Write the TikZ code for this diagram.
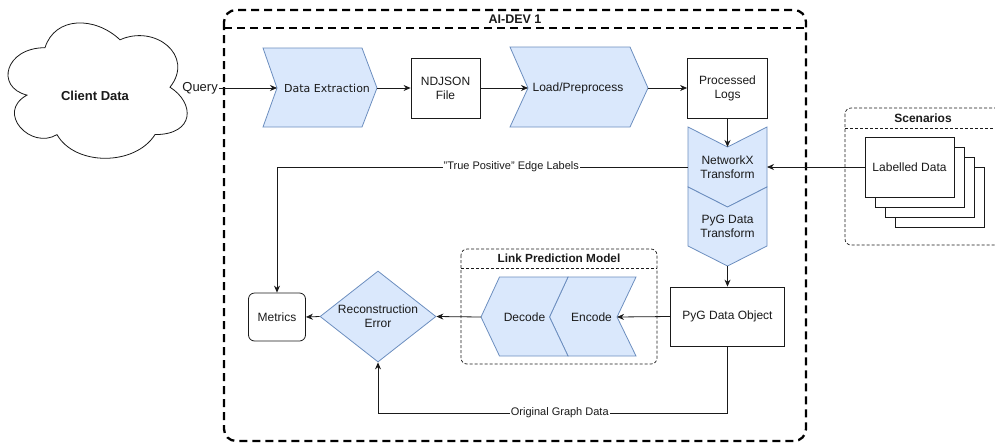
\documentclass[tikz,border=0pt]{standalone}
\usepackage{fontspec}
\setmainfont{Liberation Sans}
\newfontfamily\dejavu{DejaVu Sans}
\usetikzlibrary{arrows.meta,shapes.geometric}
\definecolor{chevfill}{HTML}{DAE8FC}
\definecolor{chevline}{HTML}{6C8EBF}
\definecolor{ink}{HTML}{1A1A1A}
\tikzset{
  txt/.style={font=\fontsize{12}{14}\selectfont, text=ink, align=center},
  box/.style={txt, draw=ink, fill=white, line width=0.8pt, inner sep=2pt},
  chev/.style={draw=chevline, fill=chevfill, line width=0.8pt, line join=miter},
  arr/.style={-{Stealth[length=7pt,width=6pt]}, line width=0.8pt, draw=ink},
  elabel/.style={fill=white, text=ink, font=\fontsize{11}{13}\selectfont, inner sep=1pt},
  cont/.style={draw=ink, dash pattern=on 3pt off 2pt, line width=0.7pt},
  outerbox/.style={draw=black, dash pattern=on 8pt off 5pt, line width=2.3pt},
  heading/.style={font=\fontsize{12}{14}\selectfont\bfseries, text=ink},
}
\begin{document}
\begin{tikzpicture}[x=1pt,y=-1pt]
\useasboundingbox (0,0) rectangle (995,445);
\clip (0,0) rectangle (995,445);

% ---------- AI-DEV 1 frame ----------
\draw[outerbox, rounded corners=12pt] (224,10) rectangle (806,441);
\draw[outerbox] (224,28) -- (806,28);
\node[heading, font=\fontsize{12.5}{14}\selectfont\bfseries] (aidev) at (515,19) {AI-DEV 1};

% ---------- client side ----------
\draw[draw=ink, fill=white, line width=0.8pt]
  (45,47.7) .. controls (5,47.7) and (-5,87.2) .. (27,95.1)
  .. controls (-5,112.5) and (31,150.4) .. (57,134.6)
  .. controls (75,166.2) and (135,166.2) .. (155,134.6)
  .. controls (195,134.6) and (195,103) .. (170,87.2)
  .. controls (195,55.6) and (155,24) .. (120,39.8)
  .. controls (95,16.1) and (55,16.1) .. (45,47.7) -- cycle;
\node[heading, font=\fontsize{13}{15}\selectfont\bfseries] (cloud) at (95,96) {Client Data};
\coordinate (cloud-e) at (186,88);

% ---------- extraction pipeline ----------
\draw[chev] (263,48) -- (362,48) -- (377,88) -- (362,127) -- (263,127) -- (277,88) -- cycle;
\coordinate (de-in) at (277,88);
\coordinate (de-out) at (377,88);
\node[txt, font=\dejavu\fontsize{11}{13}\selectfont] (de) at (327,88) {Data Extraction};

\node[box, minimum width=69pt, minimum height=60pt] (nd) at (445.5,88) {NDJSON\\File};

\draw[chev] (510,47) -- (630,47) -- (648,88) -- (630,127) -- (510,127) -- (528,88) -- cycle;
\coordinate (lp-in) at (528,88);
\coordinate (lp-out) at (648,88);
\node[txt] (lp) at (578,88) {Load/Preprocess};

\node[box, minimum width=80pt, minimum height=60pt] (pl) at (727.5,88) {Processed\\Logs};

% ---------- graph transforms ----------
\draw[chev] (688,127) -- (727.5,147) -- (767,127) -- (767,187) -- (727.5,207) -- (688,187) -- cycle;
\draw[chev] (688,187) -- (727.5,207) -- (767,187) -- (767,246) -- (727.5,266) -- (688,246) -- cycle;
\coordinate (nx-in) at (727.5,147);
\coordinate (nx-l) at (688,167);
\coordinate (nx-r) at (767,167);
\coordinate (pt-out) at (727.5,266);
\node[txt] (nx) at (727.5,167) {NetworkX\\Transform};
\node[txt] (pt) at (727.5,226) {PyG Data\\Transform};

\node[box, minimum width=114pt, minimum height=59pt] (pyg) at (727.5,316.5) {PyG Data Object};

% ---------- scenarios ----------
\draw[cont, rounded corners=6pt] (845,108) rectangle (1001,245);
\draw[cont] (845,128) -- (1001,128);
\node[heading] (scen) at (923,118) {Scenarios};
\foreach \d in {30,20,10}
  \draw[box] (865+\d,137+\d) rectangle (954+\d,197+\d);
\node[box, minimum width=89pt, minimum height=60pt] (ld) at (909.5,167) {Labelled Data};

% ---------- link prediction model ----------
\draw[cont, rounded corners=6pt] (461,249) rectangle (657,364);
\draw[cont] (461,268) -- (657,268);
\node[heading, font=\fontsize{11.8}{13}\selectfont\bfseries] (lpm) at (559,258.5) {Link Prediction Model};
\draw[chev] (549.5,317) -- (568,277) -- (636,277) -- (617,317) -- (636,356) -- (568,356) -- cycle;
\draw[chev] (481,317) -- (499.5,277) -- (568,277) -- (549.5,317) -- (568,356) -- (499.5,356) -- cycle;
\coordinate (enc-in) at (617,317);
\coordinate (dec-out) at (481,317);
\node[txt] (enc) at (591.5,317) {Encode};
\node[txt] (dec) at (524.5,317) {Decode};

% ---------- evaluation ----------
\node[diamond, draw=chevline, fill=chevfill, line width=0.8pt, inner sep=0pt,
      minimum width=116pt, minimum height=91pt] (re) at (378,316.5) {};
\node[txt] (relbl) at (378,316.5) {Reconstruction\\Error};
\node[box, rounded corners=6pt, minimum width=57pt, minimum height=48pt] (met) at (277,317) {Metrics};

% ---------- connectors ----------
\draw[arr] (cloud-e) -- node[pos=0.155, fill=white, text=ink, inner sep=1pt,
      font=\fontsize{13}{15}\selectfont] (qlbl) {Query} (de-in);
\draw[arr] (de-out) -- (nd.west);
\draw[arr] (nd.east) -- (lp-in);
\draw[arr] (lp-out) -- (pl.west);
\draw[arr] (pl.south) -- (nx-in);
\draw[arr] (ld.west) -- (nx-r);
\draw[arr] (pt-out) -- (pyg.north);
\draw[arr] (pyg.west) -- (enc-in);
\draw[arr] (dec-out) -- (re.east);
\draw[arr] (re.west) -- (met.east);
\draw[arr] (nx-l) -- node[elabel, pos=0.43] (tplbl) {"True Positive" Edge Labels}
      (met.north |- nx-l) -- (met.north);
\draw[arr] (pyg.south) -- (pyg.south |- 0,413)
      -- node[elabel, pos=0.48] (oglbl) {Original Graph Data} (re.south |- 0,413) -- (re.south);
\end{tikzpicture}
\end{document}
